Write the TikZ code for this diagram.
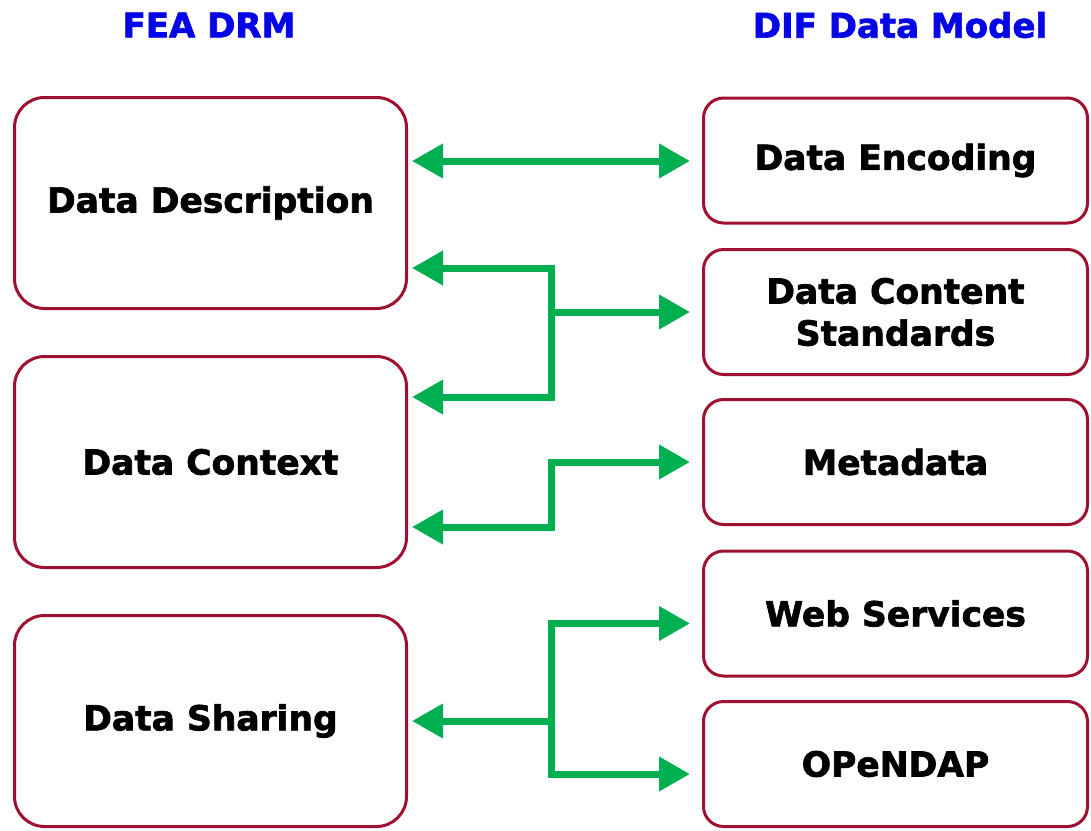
\documentclass[tikz,border=0pt]{standalone}
\usepackage{fontspec}
\setmainfont{DejaVu Sans}
\newfontfamily\heavy{DejaVu Sans Bold}[FakeBold=2]
\usetikzlibrary{arrows.meta,calc}
\definecolor{boxred}{RGB}{160,16,48}
\definecolor{linkgreen}{RGB}{0,176,80}
\definecolor{headblue}{RGB}{5,5,230}
\begin{document}
\begin{tikzpicture}[x=1pt,y=-1pt,
  heading/.style={font=\heavy\fontsize{34}{40}\selectfont, text=headblue},
  fea/.style={draw=boxred, line width=3pt, rounded corners=30pt,
    minimum width=392pt, minimum height=211pt, align=center,
    font=\heavy\fontsize{34.5}{42}\selectfont},
  dif/.style={draw=boxred, line width=3pt, rounded corners=20pt,
    minimum width=384pt, minimum height=125pt, align=center,
    font=\heavy\fontsize{34.5}{42}\selectfont},
  link/.style={draw=linkgreen, line width=7pt,
    arrows={Triangle[length=31pt,width=33pt]-Triangle[length=31pt,width=33pt]}},
  linkto/.style={draw=linkgreen, line width=7pt,
    arrows={-Triangle[length=31pt,width=33pt]}}]
\useasboundingbox (0,0) rectangle (1091,830);

% column headings
\node[heading] (hfea) at (209,25) {FEA DRM};
\node[heading] (hdif) at (900,25) {DIF Data Model};

% FEA DRM boxes
\node[fea] (desc) at (210.5,203) {Data Description};
\node[fea] (ctx)  at (210.5,462) {Data Context};
\node[fea] (shr)  at (210.5,721) {Data Sharing};

% DIF data model boxes
\node[dif] (enc)  at (895.5,160.5) {Data Encoding};
\node[dif] (cont) at (895.5,312) {Data Content\\Standards};
\node[dif] (meta) at (895.5,462) {Metadata};
\node[dif] (web)  at (895.5,613.5) {Web Services};
\node[dif] (odap) at (895.5,764) {OPeNDAP};

% tips of the connectors, just off the box borders
\coordinate (encR)  at ($(enc.west)+(-12,0)$);
\coordinate (contR) at ($(cont.west)+(-12,0)$);
\coordinate (metaR) at ($(meta.west)+(-12,0)$);
\coordinate (webR)  at ($(web.west)+(-12,10)$);
\coordinate (odapR) at ($(odap.west)+(-12,10)$);
\coordinate (descA) at ($(desc.east)+(4,-42)$);
\coordinate (descB) at ($(desc.east)+(4,65)$);
\coordinate (ctxA)  at ($(ctx.east)+(4,-65)$);
\coordinate (ctxB)  at ($(ctx.east)+(4,65)$);
\coordinate (shrA)  at ($(shr.east)+(4,0)$);
\coordinate (bus)   at (551,0);

% Data Description <-> Data Encoding
\draw[link] (descA) -- (descA -| encR);

% Data Description / Data Context <-> Data Content Standards
\draw[link] (descB) -- (descB -| bus) -- (ctxA -| bus) -- (ctxA);
\draw[linkto] (contR -| bus) -- (contR);

% Data Context <-> Metadata
\draw[link] (ctxB) -- (ctxB -| bus) -- (metaR -| bus) -- (metaR);

% Data Sharing <-> Web Services / OPeNDAP
\draw[link] (webR) -- (webR -| bus) -- (odapR -| bus) -- (odapR);
\draw[linkto] (shrA -| bus) -- (shrA);
\end{tikzpicture}
\end{document}
